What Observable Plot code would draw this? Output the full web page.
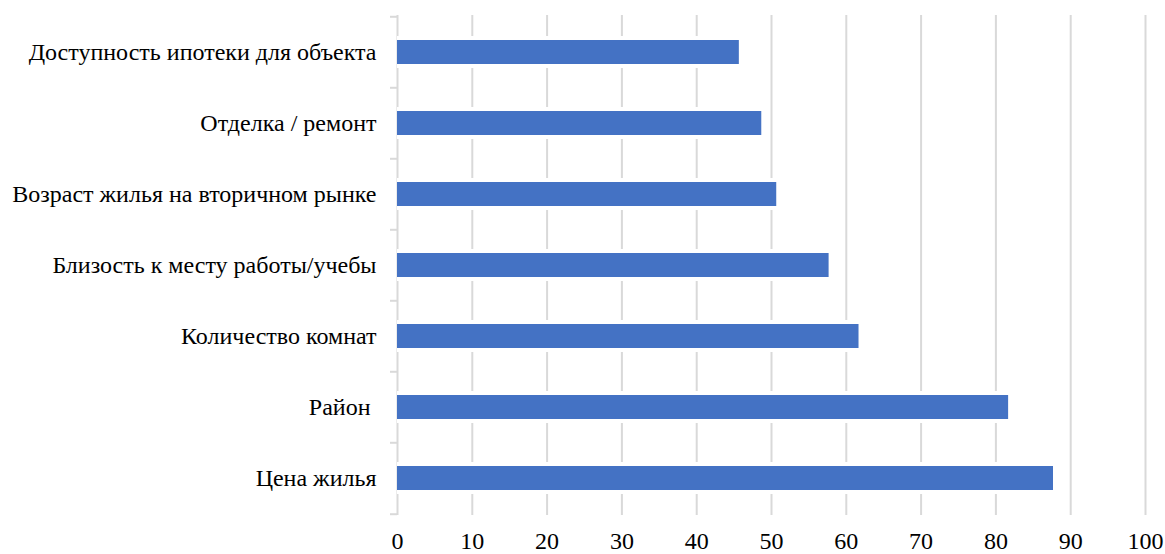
<!DOCTYPE html>
<html>
<head>
<meta charset="utf-8">
<script src="https://cdn.jsdelivr.net/npm/d3@7"></script>
<script src="https://cdn.jsdelivr.net/npm/@observablehq/plot@0.6"></script>
<style>
  html, body { margin: 0; padding: 0; background: #fff; }
  #chart svg { display: block; }
  #chart svg, #chart svg text { font-family: "Liberation Serif", "Times New Roman", serif; }
</style>
</head>
<body>
<div id="chart"></div>
<script>
const categories = [
  "Доступность ипотеки для объекта",
  "Отделка / ремонт",
  "Возраст жилья на вторичном рынке",
  "Близость к месту работы/учебы",
  "Количество комнат",
  "Район\u00A0",
  "Цена жилья"
];
const values = [45.7, 48.7, 50.7, 57.7, 61.7, 81.7, 87.7];
const xTicks = [0, 10, 20, 30, 40, 50, 60, 70, 80, 90, 100];

const data = categories.map((c, i) => ({category: c, value: values[i]}));

const width = 1165, height = 554;
const marginTop = 15, marginBottom = 39, marginLeft = 397, marginRight = 20;
const step = (height - marginTop - marginBottom) / categories.length;
const font = "Liberation Serif, Times New Roman, serif";
const grid = "#d9d9d9";

const chart = Plot.plot({
  width, height, marginTop, marginBottom, marginLeft, marginRight,
  style: {fontFamily: font, fontSize: "24px", color: "#000", background: "#fff"},
  x: {domain: [0, 100], ticks: xTicks, label: null},
  y: {domain: categories, paddingInner: 0.664, paddingOuter: 0.332, label: null},
  marks: [
    Plot.ruleX(xTicks.filter(d => d > 0), {x: d => d, stroke: grid, strokeWidth: 2}),
    Plot.ruleX([0], {x: d => d, stroke: grid, strokeWidth: 2}),
    Plot.ruleY(categories, {y: d => d, x1: 0, x2: 0, insetLeft: -7, dy: -step / 2, stroke: grid, strokeWidth: 2}),
    Plot.ruleY(categories.slice(-1), {y: d => d, x1: 0, x2: 0, insetLeft: -7, dy: step / 2, stroke: grid, strokeWidth: 2}),
    Plot.barX(data, {x: "value", y: "category", fill: "#fff", insetTop: -4, insetBottom: -4}),
    Plot.barX(data, {x: "value", y: "category", fill: "#4472C4"}),
    Plot.axisX({ticks: xTicks, tickSize: 0, tickPadding: 16, label: null, fontSize: "24px", fontFamily: font}),
    Plot.axisY({tickSize: 0, tickPadding: 21, label: null, fontSize: "24px", fontFamily: font})
  ]
});
document.getElementById("chart").appendChild(chart);
</script>
</body>
</html>
